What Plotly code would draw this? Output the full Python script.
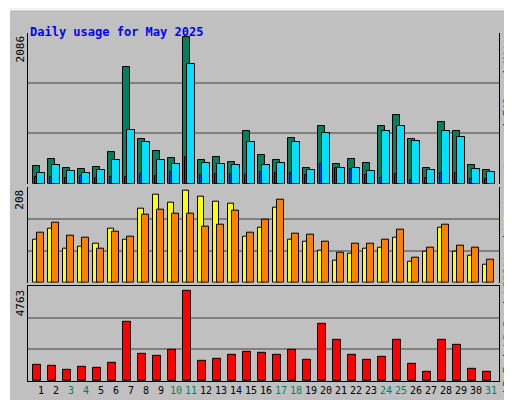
import plotly.graph_objects as go

days = list(range(1, 32))
hits = [245,345,217,203,231,444,1661,642,472,359,2086,330,373,302,755,401,330,656,217,826,274,345,288,826,982,642,217,883,755,260,189]
pages = [146,260,175,146,189,330,769,599,330,274,1704,288,274,260,599,260,288,599,189,727,217,217,175,755,826,614,189,755,670,203,160]
files = [94,94,80,109,80,94,94,137,109,165,378,123,137,137,123,165,151,151,123,278,217,208,123,80,137,52,80,151,151,66,66]
visits = [98,122,77,82,89,122,98,167,199,181,208,195,183,179,104,125,170,98,93,73,50,66,77,80,102,48,71,125,71,62,41]
sites = [113,136,107,102,77,116,104,154,165,156,156,127,131,163,113,143,188,111,109,93,68,89,89,98,120,57,80,131,84,80,53]
kbytes = [852,800,591,747,695,956,3146,1425,1321,1634,4763,1060,1164,1373,1529,1477,1373,1634,1112,3042,2155,1373,1112,1269,2155,904,487,2155,1894,643,487]
weekend = [3,4,10,11,17,18,24,25,31]
max_labels = ["2086", "208", "4763"]

W, H = 512, 400
L, R, T, B = 20, 21, 25, 24
PW, PH = W - L - R, H - T - B
def px(x): return (x - L) / PW
def py(y): return (H - B - y) / PH

fig = go.Figure()
line = dict(color="black", width=1)
def bar(y, color, off, wd, ax):
    fig.add_bar(x=days, y=y, marker=dict(color=color, line=line), offset=off, width=wd,
                xaxis="x", yaxis=ax, showlegend=False)

bar(hits, "#00805c", -0.53, 0.47, "y")
bar(files, "#0040ff", -0.4, 0.13, "y")
bar(pages, "#00e0ff", -0.27, 0.53, "y")
bar(visits, "#ffff00", -0.53, 0.4, "y2")
bar(sites, "#ff8000", -0.27, 0.5, "y2")
bar(kbytes, "#ff0000", -0.53, 0.53, "y3")

def yax(top, dom):
    return dict(domain=dom, range=[0, top], tickvals=[top/3, 2*top/3], showticklabels=False,
                showgrid=True, gridcolor="#808080", gridwidth=1.5, zeroline=False,
                showline=True, linecolor="black", mirror=True, ticks="", anchor="x")

t1 = 2086 * 152 / 148
t2 = 208 * 97 / 93
t3 = 4763 * 96 / 91
fig.update_layout(
    width=W, height=H, margin=dict(l=L, r=R, t=T, b=B),
    paper_bgcolor="#c0c0c0", plot_bgcolor="#c0c0c0", barmode="overlay",
    xaxis=dict(range=[1 - 13/15, 31 + 8/15], tickvals=days, tickangle=0,
               ticktext=[f"<span style='color:#00805c'>{d}</span>" if d in weekend else str(d) for d in days],
               tickfont=dict(family="DejaVu Sans Mono", size=10, color="black"),
               showgrid=False, zeroline=False, showline=True, linecolor="black", mirror=True,
               ticks="", anchor="y3"),
    yaxis=yax(t1, [py(177), 1]),
    yaxis2=yax(t2, [py(277), py(180)]),
    yaxis3=yax(t3, [0, py(280)]),
    font=dict(family="DejaVu Sans Mono"),
    bargap=0,
)

ann = [
    dict(x=px(20), y=py(15), text="<b>Daily usage for May 2025</b>", font=dict(color="#0000ff", size=12), xanchor="left"),
    dict(x=px(12), y=py(26), text=max_labels[0], textangle=-90, yanchor="top", xanchor="center"),
    dict(x=px(12), y=py(181), text=max_labels[1], textangle=-90, yanchor="top", xanchor="center"),
    dict(x=px(12), y=py(282), text=max_labels[2], textangle=-90, yanchor="top", xanchor="center"),
    dict(x=px(499), y=py(27), yanchor="top", xanchor="center", textangle=-90,
         text="<span style='color:#00e0ff'>Pages</span> / <span style='color:#0040ff'>Files</span> / <span style='color:#00805c'>Hits</span>"),
    dict(x=px(499), y=py(180), yanchor="top", xanchor="center", textangle=-90,
         text="<span style='color:#ff8000'>Sites</span> / <span style='color:#ffff00'>Visits</span>"),
    dict(x=px(499), y=py(391), yanchor="bottom", xanchor="center", textangle=-90,
         text="<span style='color:#ff0000'>kB F</span> / <span style='color:#0080ff'>kB In</span> / <span style='color:#00c000'>kB Out</span>"),
]
for a in ann:
    a.update(xref="paper", yref="paper", showarrow=False)
    a.setdefault("font", dict(size=11, color="black"))
    fig.add_annotation(**a)

shapes = [
    dict(x0=px(0), x1=px(512), y0=py(0), y1=py(2), fillcolor="white"),
    dict(x0=px(0), x1=px(2), y0=py(0), y1=py(400), fillcolor="white"),
    dict(x0=px(508), x1=px(512), y0=py(4), y1=py(400), fillcolor="#808080"),
    dict(x0=px(4), x1=px(512), y0=py(396), y1=py(400), fillcolor="#808080"),
]
for s in shapes:
    fig.add_shape(type="rect", xref="paper", yref="paper", line_width=0, layer="above", **s)

fig.write_html("out.html")
